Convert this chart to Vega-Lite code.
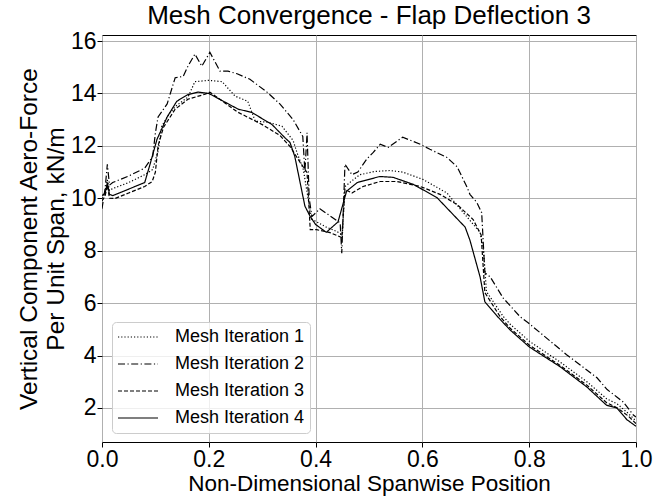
{
  "$schema": "https://vega.github.io/schema/vega-lite/v6.json",
  "autosize": {"type": "none"},
  "padding": {"left": 102, "top": 35, "right": 30, "bottom": 56},
  "width": 534,
  "height": 407,
  "background": "white",
  "title": {"text": "Mesh Convergence - Flap Deflection 3", "fontSize": 26, "font": "Liberation Sans", "fontWeight": "normal", "color": "black", "offset": 1, "anchor": "middle"},
  "config": {
    "font": "Liberation Sans",
    "view": {"stroke": "black", "strokeWidth": 1},
    "axis": {"gridColor": "#b0b0b0", "gridWidth": 1, "domain": false, "tickColor": "black", "tickSize": 5, "labelColor": "black", "titleColor": "black", "labelFontSize": 23, "titleFontWeight": "normal", "labelFont": "Liberation Sans", "titleFont": "Liberation Sans", "labelFlush": false, "labelOverlap": false}
  },
  "data": {"values": [
    {"s":"Mesh Iteration 1","x":0.0,"y":10.0},{"s":"Mesh Iteration 1","x":0.006,"y":10.3},{"s":"Mesh Iteration 1","x":0.01,"y":10.7},{"s":"Mesh Iteration 1","x":0.014,"y":10.3},{"s":"Mesh Iteration 1","x":0.02,"y":10.37},{"s":"Mesh Iteration 1","x":0.05,"y":10.6},{"s":"Mesh Iteration 1","x":0.08,"y":10.9},{"s":"Mesh Iteration 1","x":0.095,"y":11.1},{"s":"Mesh Iteration 1","x":0.105,"y":11.8},{"s":"Mesh Iteration 1","x":0.112,"y":12.75},{"s":"Mesh Iteration 1","x":0.125,"y":13.2},{"s":"Mesh Iteration 1","x":0.137,"y":13.5},{"s":"Mesh Iteration 1","x":0.161,"y":13.86},{"s":"Mesh Iteration 1","x":0.174,"y":14.45},{"s":"Mesh Iteration 1","x":0.2,"y":14.5},{"s":"Mesh Iteration 1","x":0.225,"y":14.45},{"s":"Mesh Iteration 1","x":0.249,"y":13.9},{"s":"Mesh Iteration 1","x":0.273,"y":13.7},{"s":"Mesh Iteration 1","x":0.287,"y":12.94},{"s":"Mesh Iteration 1","x":0.311,"y":12.9},{"s":"Mesh Iteration 1","x":0.337,"y":12.75},{"s":"Mesh Iteration 1","x":0.358,"y":12.2},{"s":"Mesh Iteration 1","x":0.365,"y":11.75},{"s":"Mesh Iteration 1","x":0.377,"y":11.1},{"s":"Mesh Iteration 1","x":0.39,"y":9.5},{"s":"Mesh Iteration 1","x":0.393,"y":9.2},{"s":"Mesh Iteration 1","x":0.42,"y":8.9},{"s":"Mesh Iteration 1","x":0.44,"y":8.73},{"s":"Mesh Iteration 1","x":0.45,"y":8.6},{"s":"Mesh Iteration 1","x":0.455,"y":10.45},{"s":"Mesh Iteration 1","x":0.47,"y":10.7},{"s":"Mesh Iteration 1","x":0.483,"y":10.9},{"s":"Mesh Iteration 1","x":0.51,"y":11.02},{"s":"Mesh Iteration 1","x":0.539,"y":11.06},{"s":"Mesh Iteration 1","x":0.563,"y":11.0},{"s":"Mesh Iteration 1","x":0.601,"y":10.72},{"s":"Mesh Iteration 1","x":0.646,"y":10.2},{"s":"Mesh Iteration 1","x":0.683,"y":9.3},{"s":"Mesh Iteration 1","x":0.708,"y":8.7},{"s":"Mesh Iteration 1","x":0.714,"y":8.1},{"s":"Mesh Iteration 1","x":0.72,"y":6.44},{"s":"Mesh Iteration 1","x":0.751,"y":5.5},{"s":"Mesh Iteration 1","x":0.764,"y":5.2},{"s":"Mesh Iteration 1","x":0.8,"y":4.55},{"s":"Mesh Iteration 1","x":0.858,"y":3.75},{"s":"Mesh Iteration 1","x":0.908,"y":3.0},{"s":"Mesh Iteration 1","x":0.945,"y":2.35},{"s":"Mesh Iteration 1","x":0.965,"y":2.15},{"s":"Mesh Iteration 1","x":0.985,"y":1.8},{"s":"Mesh Iteration 1","x":1.0,"y":1.5},
    {"s":"Mesh Iteration 2","x":0.0,"y":9.6},{"s":"Mesh Iteration 2","x":0.006,"y":10.4},{"s":"Mesh Iteration 2","x":0.01,"y":11.3},{"s":"Mesh Iteration 2","x":0.014,"y":10.5},{"s":"Mesh Iteration 2","x":0.02,"y":10.6},{"s":"Mesh Iteration 2","x":0.05,"y":10.85},{"s":"Mesh Iteration 2","x":0.08,"y":11.15},{"s":"Mesh Iteration 2","x":0.095,"y":11.6},{"s":"Mesh Iteration 2","x":0.1,"y":12.5},{"s":"Mesh Iteration 2","x":0.105,"y":13.1},{"s":"Mesh Iteration 2","x":0.122,"y":13.6},{"s":"Mesh Iteration 2","x":0.137,"y":14.6},{"s":"Mesh Iteration 2","x":0.152,"y":14.65},{"s":"Mesh Iteration 2","x":0.161,"y":15.04},{"s":"Mesh Iteration 2","x":0.174,"y":15.5},{"s":"Mesh Iteration 2","x":0.187,"y":15.04},{"s":"Mesh Iteration 2","x":0.202,"y":15.57},{"s":"Mesh Iteration 2","x":0.221,"y":14.85},{"s":"Mesh Iteration 2","x":0.236,"y":14.85},{"s":"Mesh Iteration 2","x":0.253,"y":14.75},{"s":"Mesh Iteration 2","x":0.277,"y":14.54},{"s":"Mesh Iteration 2","x":0.309,"y":14.05},{"s":"Mesh Iteration 2","x":0.333,"y":13.6},{"s":"Mesh Iteration 2","x":0.358,"y":13.0},{"s":"Mesh Iteration 2","x":0.376,"y":12.36},{"s":"Mesh Iteration 2","x":0.38,"y":11.0},{"s":"Mesh Iteration 2","x":0.384,"y":12.5},{"s":"Mesh Iteration 2","x":0.388,"y":10.0},{"s":"Mesh Iteration 2","x":0.393,"y":9.3},{"s":"Mesh Iteration 2","x":0.408,"y":9.6},{"s":"Mesh Iteration 2","x":0.436,"y":9.2},{"s":"Mesh Iteration 2","x":0.446,"y":9.06},{"s":"Mesh Iteration 2","x":0.449,"y":7.9},{"s":"Mesh Iteration 2","x":0.455,"y":11.3},{"s":"Mesh Iteration 2","x":0.468,"y":10.9},{"s":"Mesh Iteration 2","x":0.479,"y":11.0},{"s":"Mesh Iteration 2","x":0.496,"y":11.5},{"s":"Mesh Iteration 2","x":0.508,"y":11.75},{"s":"Mesh Iteration 2","x":0.521,"y":12.06},{"s":"Mesh Iteration 2","x":0.536,"y":11.94},{"s":"Mesh Iteration 2","x":0.563,"y":12.33},{"s":"Mesh Iteration 2","x":0.596,"y":12.06},{"s":"Mesh Iteration 2","x":0.614,"y":11.87},{"s":"Mesh Iteration 2","x":0.646,"y":11.56},{"s":"Mesh Iteration 2","x":0.665,"y":11.2},{"s":"Mesh Iteration 2","x":0.683,"y":10.45},{"s":"Mesh Iteration 2","x":0.689,"y":10.15},{"s":"Mesh Iteration 2","x":0.702,"y":9.84},{"s":"Mesh Iteration 2","x":0.711,"y":9.45},{"s":"Mesh Iteration 2","x":0.717,"y":7.16},{"s":"Mesh Iteration 2","x":0.727,"y":7.0},{"s":"Mesh Iteration 2","x":0.751,"y":6.2},{"s":"Mesh Iteration 2","x":0.783,"y":5.48},{"s":"Mesh Iteration 2","x":0.798,"y":5.25},{"s":"Mesh Iteration 2","x":0.87,"y":4.03},{"s":"Mesh Iteration 2","x":0.927,"y":3.15},{"s":"Mesh Iteration 2","x":0.946,"y":2.7},{"s":"Mesh Iteration 2","x":0.964,"y":2.42},{"s":"Mesh Iteration 2","x":0.976,"y":2.23},{"s":"Mesh Iteration 2","x":0.995,"y":1.73},{"s":"Mesh Iteration 2","x":1.0,"y":1.65},
    {"s":"Mesh Iteration 3","x":0.0,"y":9.9},{"s":"Mesh Iteration 3","x":0.006,"y":10.1},{"s":"Mesh Iteration 3","x":0.01,"y":10.5},{"s":"Mesh Iteration 3","x":0.014,"y":10.0},{"s":"Mesh Iteration 3","x":0.024,"y":9.99},{"s":"Mesh Iteration 3","x":0.05,"y":10.2},{"s":"Mesh Iteration 3","x":0.08,"y":10.45},{"s":"Mesh Iteration 3","x":0.094,"y":10.64},{"s":"Mesh Iteration 3","x":0.1,"y":11.0},{"s":"Mesh Iteration 3","x":0.105,"y":12.0},{"s":"Mesh Iteration 3","x":0.115,"y":12.7},{"s":"Mesh Iteration 3","x":0.137,"y":13.4},{"s":"Mesh Iteration 3","x":0.161,"y":13.78},{"s":"Mesh Iteration 3","x":0.193,"y":13.97},{"s":"Mesh Iteration 3","x":0.202,"y":14.05},{"s":"Mesh Iteration 3","x":0.253,"y":13.3},{"s":"Mesh Iteration 3","x":0.301,"y":12.8},{"s":"Mesh Iteration 3","x":0.333,"y":12.4},{"s":"Mesh Iteration 3","x":0.352,"y":11.98},{"s":"Mesh Iteration 3","x":0.371,"y":11.37},{"s":"Mesh Iteration 3","x":0.384,"y":10.98},{"s":"Mesh Iteration 3","x":0.39,"y":8.8},{"s":"Mesh Iteration 3","x":0.402,"y":8.8},{"s":"Mesh Iteration 3","x":0.427,"y":8.69},{"s":"Mesh Iteration 3","x":0.449,"y":8.5},{"s":"Mesh Iteration 3","x":0.455,"y":10.34},{"s":"Mesh Iteration 3","x":0.468,"y":10.2},{"s":"Mesh Iteration 3","x":0.489,"y":10.45},{"s":"Mesh Iteration 3","x":0.521,"y":10.64},{"s":"Mesh Iteration 3","x":0.552,"y":10.64},{"s":"Mesh Iteration 3","x":0.596,"y":10.45},{"s":"Mesh Iteration 3","x":0.633,"y":10.15},{"s":"Mesh Iteration 3","x":0.665,"y":9.76},{"s":"Mesh Iteration 3","x":0.695,"y":9.19},{"s":"Mesh Iteration 3","x":0.71,"y":8.6},{"s":"Mesh Iteration 3","x":0.717,"y":6.4},{"s":"Mesh Iteration 3","x":0.745,"y":5.5},{"s":"Mesh Iteration 3","x":0.764,"y":5.05},{"s":"Mesh Iteration 3","x":0.8,"y":4.4},{"s":"Mesh Iteration 3","x":0.858,"y":3.62},{"s":"Mesh Iteration 3","x":0.908,"y":2.87},{"s":"Mesh Iteration 3","x":0.945,"y":2.2},{"s":"Mesh Iteration 3","x":0.965,"y":2.0},{"s":"Mesh Iteration 3","x":0.985,"y":1.7},{"s":"Mesh Iteration 3","x":1.0,"y":1.4},
    {"s":"Mesh Iteration 4","x":0.0,"y":10.1},{"s":"Mesh Iteration 4","x":0.006,"y":10.2},{"s":"Mesh Iteration 4","x":0.01,"y":10.6},{"s":"Mesh Iteration 4","x":0.014,"y":10.15},{"s":"Mesh Iteration 4","x":0.02,"y":10.1},{"s":"Mesh Iteration 4","x":0.05,"y":10.35},{"s":"Mesh Iteration 4","x":0.08,"y":10.6},{"s":"Mesh Iteration 4","x":0.09,"y":11.3},{"s":"Mesh Iteration 4","x":0.103,"y":12.25},{"s":"Mesh Iteration 4","x":0.122,"y":13.1},{"s":"Mesh Iteration 4","x":0.14,"y":13.7},{"s":"Mesh Iteration 4","x":0.16,"y":13.95},{"s":"Mesh Iteration 4","x":0.18,"y":14.05},{"s":"Mesh Iteration 4","x":0.2,"y":14.0},{"s":"Mesh Iteration 4","x":0.255,"y":13.4},{"s":"Mesh Iteration 4","x":0.28,"y":13.28},{"s":"Mesh Iteration 4","x":0.318,"y":12.82},{"s":"Mesh Iteration 4","x":0.343,"y":12.3},{"s":"Mesh Iteration 4","x":0.352,"y":12.13},{"s":"Mesh Iteration 4","x":0.361,"y":11.6},{"s":"Mesh Iteration 4","x":0.38,"y":9.7},{"s":"Mesh Iteration 4","x":0.39,"y":9.3},{"s":"Mesh Iteration 4","x":0.4,"y":9.0},{"s":"Mesh Iteration 4","x":0.42,"y":8.7},{"s":"Mesh Iteration 4","x":0.442,"y":9.1},{"s":"Mesh Iteration 4","x":0.458,"y":10.27},{"s":"Mesh Iteration 4","x":0.478,"y":10.6},{"s":"Mesh Iteration 4","x":0.52,"y":10.83},{"s":"Mesh Iteration 4","x":0.545,"y":10.8},{"s":"Mesh Iteration 4","x":0.583,"y":10.53},{"s":"Mesh Iteration 4","x":0.627,"y":10.03},{"s":"Mesh Iteration 4","x":0.68,"y":8.9},{"s":"Mesh Iteration 4","x":0.689,"y":8.4},{"s":"Mesh Iteration 4","x":0.708,"y":7.0},{"s":"Mesh Iteration 4","x":0.717,"y":6.05},{"s":"Mesh Iteration 4","x":0.74,"y":5.5},{"s":"Mesh Iteration 4","x":0.764,"y":4.98},{"s":"Mesh Iteration 4","x":0.8,"y":4.33},{"s":"Mesh Iteration 4","x":0.858,"y":3.57},{"s":"Mesh Iteration 4","x":0.908,"y":2.8},{"s":"Mesh Iteration 4","x":0.945,"y":2.1},{"s":"Mesh Iteration 4","x":0.964,"y":2.0},{"s":"Mesh Iteration 4","x":0.983,"y":1.55},{"s":"Mesh Iteration 4","x":1.0,"y":1.3}
  ]},
  "mark": {"type": "line", "color": "black", "strokeWidth": 1.2, "clip": true},
  "encoding": {
    "x": {"field": "x", "type": "quantitative", "scale": {"domain": [0, 1], "nice": false, "zero": false},
      "axis": {"values": [0, 0.2, 0.4, 0.6, 0.8, 1.0], "format": ".1f", "title": "Non-Dimensional Spanwise Position", "titleFontSize": 22.5, "titlePadding": 1, "labelPadding": 1}},
    "y": {"field": "y", "type": "quantitative", "scale": {"domain": [0.7, 16.23], "nice": false, "zero": false},
      "axis": {"values": [2, 4, 6, 8, 10, 12, 14, 16], "title": ["Vertical Component Aero-Force", "Per Unit Span, kN/m"], "titleFontSize": 24.5, "titleLineHeight": 27, "titlePadding": 2, "labelPadding": 1}},
    "strokeDash": {"field": "s", "type": "nominal",
      "scale": {"domain": ["Mesh Iteration 1", "Mesh Iteration 2", "Mesh Iteration 3", "Mesh Iteration 4"], "range": [[1.2, 2], [7, 2.5, 1.2, 2.5], [4, 2], [1, 0]]},
      "legend": {"title": null, "orient": "none", "legendX": 10, "legendY": 287, "symbolType": "stroke", "symbolSize": 1600, "symbolStrokeColor": "black", "symbolStrokeWidth": 1.2, "clipHeight": 20, "labelFontSize": 18, "labelColor": "black", "rowPadding": 7, "padding": 5, "fillColor": "rgba(255,255,255,0.8)", "strokeColor": "#cccccc", "cornerRadius": 4, "labelOffset": 16}}
  }
}
